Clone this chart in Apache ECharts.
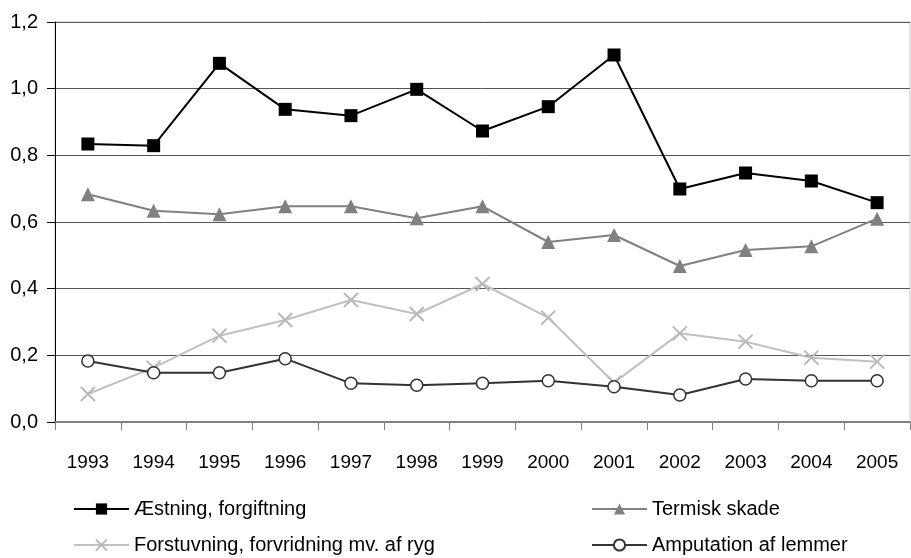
<!DOCTYPE html>
<html>
<head>
<meta charset="utf-8">
<script src="https://cdn.jsdelivr.net/npm/echarts@6/dist/echarts.min.js"></script>
<style>
  html, body { margin: 0; padding: 0; background: #fff; }
  #chart { width: 911px; height: 558px; }
</style>
</head>
<body>
<div id="chart"></div>
<script>
( () => {
    const years = [ '1993', '1994', '1995', '1996', '1997', '1998', '1999', '2000', '2001', '2002', '2003', '2004', '2005' ];
    const yTicks = [ 0, 0.2, 0.4, 0.6, 0.8, 1.0, 1.2 ];

    const aetsning = [ 0.834, 0.829, 1.076, 0.938, 0.919, 0.998, 0.873, 0.946, 1.101, 0.699, 0.747, 0.723, 0.658 ];
    const termisk = [ 0.683, 0.634, 0.623, 0.647, 0.647, 0.611, 0.647, 0.540, 0.561, 0.468, 0.516, 0.527, 0.610 ];
    const forstuvning = [ 0.084, 0.163, 0.259, 0.306, 0.366, 0.324, 0.414, 0.313, 0.118, 0.266, 0.241, 0.193, 0.181 ];
    const amputation = [ 0.183, 0.148, 0.148, 0.190, 0.116, 0.110, 0.116, 0.124, 0.106, 0.081, 0.129, 0.124, 0.124 ];

    const names = [ 'Æstning, forgiftning', 'Termisk skade', 'Forstuvning, forvridning mv. af ryg', 'Amputation af lemmer' ];

    const font = '"Liberation Sans", Arial, sans-serif';
    const crossPath = 'path://M0,0L10,10M10,0L0,10';

    const chart = echarts.init( document.getElementById( 'chart' ), null, { renderer: 'canvas' } );

    const legendBase = {
        orient: 'vertical',
        padding: 0,
        itemWidth: 55,
        itemHeight: 14,
        itemGap: 16,
        textStyle: { fontFamily: font, fontSize: 20, color: '#000' },
        selectedMode: false,
    };

    const option = {
        animation: false,
        backgroundColor: '#fff',
        grid: {
            left: 55,
            right: 1,
            top: 22,
            bottom: 136,
            show: true,
            borderColor: '#c8c8c8',
            borderWidth: 1,
        },
        legend: [
            Object.assign( {}, legendBase, { left: 73, top: 499, data: [ names[ 0 ], names[ 2 ] ] } ),
            Object.assign( {}, legendBase, { left: 591, top: 499, data: [ names[ 1 ], names[ 3 ] ] } ),
        ],
        xAxis: {
            type: 'category',
            data: years,
            boundaryGap: true,
            axisLine: { lineStyle: { color: '#808080', width: 2 } },
            axisTick: { show: true, interval: 0, length: 8, lineStyle: { color: '#808080', width: 1 } },
            axisLabel: { interval: 0, margin: 31, fontFamily: font, fontSize: 19, color: '#000' },
        },
        yAxis: {
            type: 'value',
            min: yTicks[ 0 ],
            max: yTicks[ yTicks.length - 1 ],
            interval: 0.2,
            axisLine: { show: true, lineStyle: { color: '#000', width: 1 } },
            axisTick: { show: true, length: 8, lineStyle: { color: '#000' } },
            axisLabel: {
                margin: 17,
                fontFamily: font,
                fontSize: 20,
                color: '#000',
                formatter: v => v.toFixed( 1 ).replace( '.', ',' ),
            },
            splitLine: { lineStyle: { color: '#555', width: 1 } },
        },
        series: [
            {
                name: names[ 2 ],
                type: 'line',
                data: forstuvning,
                symbol: crossPath,
                symbolSize: 14,
                lineStyle: { color: '#c0c0c0', width: 2 },
                itemStyle: { color: 'rgba(0,0,0,0)', borderColor: '#b8b8b8', borderWidth: 2 },
                z: 2,
            },
            {
                name: names[ 3 ],
                type: 'line',
                data: amputation,
                symbol: 'circle',
                symbolSize: 12,
                lineStyle: { color: '#333', width: 2 },
                itemStyle: { color: '#fff', borderColor: '#333', borderWidth: 1.5 },
                z: 3,
            },
            {
                name: names[ 1 ],
                type: 'line',
                data: termisk,
                symbol: 'triangle',
                symbolSize: 14,
                lineStyle: { color: '#808080', width: 2 },
                itemStyle: { color: '#808080' },
                z: 4,
            },
            {
                name: names[ 0 ],
                type: 'line',
                data: aetsning,
                symbol: 'rect',
                symbolSize: 13,
                lineStyle: { color: '#000', width: 2 },
                itemStyle: { color: '#000' },
                z: 5,
            },
        ],
    };

    chart.setOption( option );
} ) ();
</script>
</body>
</html>
